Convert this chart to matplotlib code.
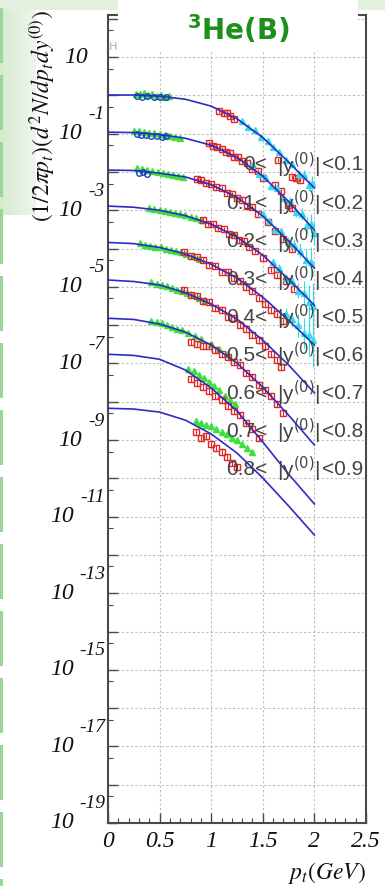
import numpy as np
import matplotlib
matplotlib.use('Agg')
import matplotlib.pyplot as plt
import matplotlib.transforms as mtransforms
from matplotlib.patches import Rectangle
from matplotlib.ticker import FixedLocator, NullFormatter

# curvas de ajuste: log10 del valor en pt_fit (GeV)
pt_fit = [0.0, 0.25, 0.5, 0.75, 1.0, 1.25, 1.5, 1.75, 2.0]
fit_log = [
    [0.01, 0.01, -0.02, -0.10, -0.28, -0.61, -1.10, -1.74, -2.42],
    [-0.96, -0.97, -1.02, -1.12, -1.30, -1.62, -2.11, -2.77, -3.52],
    [-1.95, -1.96, -2.03, -2.13, -2.33, -2.66, -3.15, -3.80, -4.51],
    [-2.89, -2.92, -3.00, -3.14, -3.36, -3.70, -4.17, -4.80, -5.48],
    [-3.84, -3.87, -3.97, -4.14, -4.41, -4.77, -5.27, -5.87, -6.52],
    [-4.82, -4.86, -4.95, -5.15, -5.45, -5.84, -6.39, -7.04, -7.77],
    [-5.82, -5.85, -5.97, -6.18, -6.52, -6.99, -7.62, -8.35, -9.13],
    [-6.76, -6.79, -6.89, -7.17, -7.64, -8.24, -9.05, -9.89, -10.67],
    [-8.17, -8.19, -8.27, -8.48, -8.84, -9.34, -9.99, -10.72, -11.48],
]

# puntos verdes (bajo pt)
green_pt = [
    [0.27, 0.31, 0.35, 0.39, 0.43, 0.47, 0.51, 0.55, 0.59],
    [0.25, 0.30, 0.35, 0.40, 0.45, 0.50, 0.55, 0.60, 0.65, 0.70],
    [0.28, 0.33, 0.38, 0.43, 0.48, 0.53, 0.58, 0.63, 0.68, 0.73],
    [0.40, 0.45, 0.50, 0.55, 0.60, 0.65, 0.70, 0.75, 0.80, 0.85, 0.90],
    [0.31, 0.36, 0.41, 0.46, 0.51, 0.56, 0.61, 0.66, 0.71, 0.76, 0.82, 0.88],
    [0.42, 0.47, 0.52, 0.57, 0.62, 0.67, 0.72, 0.77, 0.82, 0.88, 0.94],
    [0.42, 0.47, 0.52, 0.57, 0.62, 0.67, 0.72, 0.78, 0.84, 0.90, 1.00, 1.08, 1.15],
    [0.78, 0.83, 0.88, 0.93, 0.98, 1.03, 1.08, 1.13, 1.18, 1.23],
    [0.85, 0.90, 0.95, 1.00, 1.05, 1.10, 1.15, 1.20, 1.25, 1.30, 1.35, 1.40],
]
green_log = [
    [0.05, 0.03, 0.06, 0.02, 0.04, -0.01, 0.02, -0.03, -0.02],
    [-0.92, -0.94, -0.95, -0.97, -0.98, -1.01, -1.04, -1.06, -1.08, -1.12],
    [-1.90, -1.93, -1.95, -1.97, -2.00, -2.02, -2.05, -2.08, -2.10, -2.14],
    [-2.94, -2.97, -2.99, -3.02, -3.05, -3.06, -3.10, -3.13, -3.17, -3.20, -3.25],
    [-3.86, -3.90, -3.92, -3.95, -3.97, -4.00, -4.03, -4.07, -4.10, -4.14, -4.20, -4.27],
    [-4.88, -4.92, -4.95, -4.98, -5.02, -5.08, -5.10, -5.15, -5.20, -5.28, -5.35],
    [-5.88, -5.92, -5.95, -6.00, -6.05, -6.10, -6.12, -6.20, -6.28, -6.35, -6.50, -6.62, -6.75],
    [-7.15, -7.20, -7.30, -7.38, -7.48, -7.60, -7.70, -7.85, -7.95, -8.05],
    [-8.50, -8.55, -8.60, -8.62, -8.70, -8.78, -8.85, -8.95, -9.00, -9.10, -9.20, -9.30],
]

# circulos azules (solo las 3 primeras rapideces)
blue_pt = [
    [0.28, 0.33, 0.38, 0.45, 0.50, 0.56],
    [0.28, 0.32, 0.37, 0.42, 0.47, 0.52, 0.56],
    [0.30, 0.34, 0.38],
]
blue_log = [
    [-0.02, -0.03, -0.01, -0.04, -0.03, -0.05],
    [-1.02, -1.04, -1.03, -1.06, -1.05, -1.08, -1.07],
    [-2.02, -2.00, -2.05],
]

# cuadrados rojos
red_pt = [
    [1.08, 1.12, 1.15, 1.18, 1.22, 1.65, 1.78, 1.82, 1.86],
    [0.98, 1.02, 1.06, 1.10, 1.14, 1.18, 1.22, 1.26, 1.30, 1.35, 1.40, 1.45, 1.50, 1.62, 1.68, 1.74, 1.78],
    [0.86, 0.90, 0.95, 1.00, 1.05, 1.10, 1.15, 1.20, 1.25, 1.30, 1.35, 1.40, 1.45, 1.55, 1.62, 1.70, 1.78],
    [0.92, 0.97, 1.02, 1.07, 1.12, 1.17, 1.22, 1.27, 1.32, 1.37, 1.42, 1.50, 1.58, 1.64, 1.72, 1.80],
    [0.74, 0.80, 0.86, 0.92, 0.98, 1.04, 1.10, 1.16, 1.22, 1.28, 1.34, 1.40, 1.46, 1.52, 1.58, 1.64, 1.70],
    [0.74, 0.80, 0.86, 0.92, 0.98, 1.04, 1.10, 1.16, 1.22, 1.28, 1.34, 1.40, 1.46, 1.52, 1.58, 1.64, 1.68],
    [0.80, 0.86, 0.92, 0.98, 1.04, 1.10, 1.16, 1.22, 1.28, 1.34, 1.40, 1.46, 1.52, 1.58, 1.64, 1.70],
    [0.80, 0.86, 0.92, 0.98, 1.04, 1.10, 1.16, 1.22, 1.28, 1.34, 1.40, 1.46],
    [0.85, 0.90, 0.95, 1.00, 1.05, 1.10, 1.15, 1.20, 1.25],
]
red_log = [
    [-0.40, -0.45, -0.47, -0.54, -0.62, -1.69, -2.13, -2.16, -2.21],
    [-1.25, -1.33, -1.35, -1.40, -1.48, -1.50, -1.60, -1.62, -1.72, -1.76, -1.92, -1.98, -2.15, -2.35, -2.50, -2.85, -2.95],
    [-2.18, -2.22, -2.30, -2.31, -2.40, -2.43, -2.55, -2.58, -2.68, -2.72, -2.88, -2.92, -3.10, -3.30, -3.55, -3.75, -4.00],
    [-3.25, -3.35, -3.37, -3.46, -3.50, -3.62, -3.64, -3.78, -3.80, -3.95, -4.05, -4.25, -4.55, -4.70, -4.85, -5.05],
    [-4.10, -4.20, -4.23, -4.30, -4.42, -4.45, -4.60, -4.62, -4.78, -4.85, -5.00, -5.12, -5.30, -5.45, -5.60, -5.72, -5.90],
    [-5.08, -5.20, -5.25, -5.38, -5.40, -5.55, -5.60, -5.78, -5.82, -6.00, -6.10, -6.25, -6.40, -6.55, -6.75, -6.90, -7.10],
    [-6.45, -6.50, -6.55, -6.55, -6.65, -6.75, -6.82, -6.95, -7.05, -7.25, -7.35, -7.55, -7.70, -7.85, -8.05, -8.30],
    [-7.40, -7.50, -7.62, -7.72, -7.85, -7.95, -8.10, -8.25, -8.35, -8.55, -8.70, -8.95],
    [-8.80, -8.95, -8.90, -9.10, -9.20, -9.30, -9.45, -9.60, -9.70],
]
red_err = [0.06, 0.06, 0.06, 0.07, 0.07, 0.08, 0.08, 0.08, 0.08]

# triangulos cian (alto pt, 5 primeras rapideces)
cyan_pt = [
    [1.30, 1.36, 1.42, 1.48, 1.55, 1.60, 1.66, 1.72, 1.78, 1.85, 1.90, 1.95, 1.98],
    [1.40, 1.46, 1.52, 1.58, 1.64, 1.70, 1.76, 1.82, 1.88, 1.93, 1.97, 2.00],
    [1.50, 1.56, 1.62, 1.68, 1.74, 1.80, 1.86, 1.92, 1.97],
    [1.60, 1.66, 1.72, 1.78, 1.84, 1.90, 1.95, 1.99],
    [1.72, 1.78, 1.84, 1.90, 1.95, 1.99],
]
cyan_log = [
    [-0.66, -0.82, -0.90, -1.08, -1.18, -1.36, -1.47, -1.68, -1.78, -2.05, -2.08, -2.35, -2.30],
    [-1.82, -2.05, -2.12, -2.36, -2.42, -2.68, -2.75, -3.05, -3.10, -3.38, -3.35, -3.60],
    [-3.10, -3.28, -3.50, -3.55, -3.82, -3.90, -4.05, -4.30, -4.35],
    [-4.35, -4.50, -4.78, -4.85, -5.10, -5.15, -5.40, -5.50],
    [-5.70, -5.85, -6.00, -6.20, -6.25, -6.40],
]
cyan_err = [
    [0.04, 0.04, 0.05, 0.05, 0.05, 0.06, 0.06, 0.07, 0.08, 0.10, 0.12, 0.15, 0.20],
    [0.05, 0.05, 0.06, 0.06, 0.07, 0.08, 0.10, 0.12, 0.15, 0.20, 0.25, 0.30],
    [0.06, 0.07, 0.08, 0.10, 0.12, 0.15, 0.20, 0.30, 0.40],
    [0.08, 0.10, 0.12, 0.15, 0.20, 0.30, 0.45, 0.60],
    [0.15, 0.20, 0.30, 0.40, 0.55, 0.70],
]

y_lo = ['0', '0.1', '0.2', '0.3', '0.4', '0.5', '0.6', '0.7', '0.8']
y_hi = ['0.1', '0.2', '0.3', '0.4', '0.5', '0.6', '0.7', '0.8', '0.9']

ytick_exp = [1, -1, -3, -5, -7, -9, -11, -13, -15, -17, -19]
xticks = [0, 0.5, 1, 1.5, 2, 2.5]
xtick_labels = ['0', '0.5', '1', '1.5', '2', '2.5']

W, H = 385, 886
C_FIT = '#2d2dc4'
C_GREEN = '#3ee03e'
C_BLUE = '#1f40c8'
C_RED = '#e02828'
C_CYAN = '#2fdcea'
C_FRAME = '#4a4a4a'
C_LAB = '#444444'
SERIF = 'Liberation Serif'


def err_points(ax, pts, logs, errs, **kw):
    x = np.array(pts)
    v = 10.0 ** np.array(logs)
    e = np.array(errs, dtype=float) * np.ones_like(v)
    lo = v - v * 10.0 ** (-e)
    hi = v * 10.0 ** e - v
    ax.errorbar(x, v, yerr=[lo, hi], fmt='none', ecolor=kw.pop('ecolor'),
                elinewidth=0.8, capsize=0, zorder=kw.get('zorder', 3))
    ax.plot(x, v, linestyle='none', **kw)


fig = plt.figure(figsize=(W / 100, H / 100), dpi=100)

# fondo decorativo (coordenadas en pixeles)
bg = fig.add_axes([0, 0, 1, 1], zorder=-10)
bg.set_xlim(0, W); bg.set_ylim(H, 0); bg.axis('off')
grad = np.linspace(0, 1, 50)[None, :]
bg.imshow(grad, extent=[0, 36, 215, 0], cmap=matplotlib.colors.LinearSegmentedColormap.from_list(
    'g', ['#d6ead0', '#eef6ec']), aspect='auto')
bg.add_patch(Rectangle((0, 0), W, 10, color='#e2f0dd', lw=0))
y0 = 8
while y0 < H:
    bg.add_patch(Rectangle((0, y0), 3, 55, color='#9ad69a', lw=0))
    y0 += 67
bg.set_xlim(0, W); bg.set_ylim(H, 0)

# ejes principales
L_px, R_px, T_px, B_px = 108, 366, 15, 823
ax = fig.add_axes([L_px / W, 1 - B_px / H, (R_px - L_px) / W, (B_px - T_px) / H])
ax.set_yscale('log')
ax.set_xlim(0, 2.5)
ax.set_ylim(1e-19, 10 ** 2.1)

ax.set_xticks(xticks)
ax.set_xticklabels(xtick_labels, fontfamily=SERIF, fontstyle='italic', fontsize=17)
ax.xaxis.set_minor_locator(FixedLocator(np.arange(0, 2.51, 0.1)))
ax.yaxis.set_major_locator(FixedLocator([10.0 ** k for k in range(-19, 3)]))
ax.yaxis.set_minor_locator(FixedLocator([5 * 10.0 ** k for k in range(-20, 2)]))
ax.yaxis.set_major_formatter(NullFormatter())
ax.yaxis.set_minor_formatter(NullFormatter())
ax.tick_params(which='both', direction='in', colors=C_FRAME, labelcolor='#111111')
ax.tick_params(which='major', length=7, width=1)
ax.tick_params(which='minor', length=3.5, width=0.8)
ax.tick_params(axis='x', pad=6)
ax.grid(True, which='major', color='#bdbdbd', linestyle=(0, (2, 2)), linewidth=0.8)
for sp in ax.spines.values():
    sp.set_color(C_FRAME)
    sp.set_linewidth(1.5)

# datos
for i in range(len(green_pt)):
    ax.plot(green_pt[i], 10.0 ** np.array(green_log[i]), linestyle='none', marker='^',
            ms=4.5, color=C_GREEN, mec=C_GREEN, zorder=3)
for i in range(len(blue_pt)):
    ax.plot(blue_pt[i], 10.0 ** np.array(blue_log[i]), linestyle='none', marker='o',
            ms=4, mfc='none', mec=C_BLUE, mew=1, zorder=3)
for i in range(len(red_pt)):
    err_points(ax, red_pt[i], red_log[i], red_err[i], ecolor=C_RED, marker='s', ms=4.5,
               mfc='none', mec=C_RED, mew=1, zorder=3)
for i in range(len(cyan_pt)):
    err_points(ax, cyan_pt[i], cyan_log[i], cyan_err[i], ecolor=C_CYAN, marker='^', ms=4.5,
               color=C_CYAN, mec=C_CYAN, zorder=3)
for i in range(len(fit_log)):
    ax.plot(pt_fit, 10.0 ** np.array(fit_log[i]), color=C_FIT, lw=1.2, zorder=5)

# etiquetas de rapidez
for i in range(len(y_lo)):
    ya = (B_px - (165 + 38.1 * i)) / (B_px - T_px)
    tr = ax.transAxes
    ax.text((267 - L_px) / (R_px - L_px), ya, y_lo[i] + '<', transform=tr, ha='right',
            va='center', fontsize=15, color=C_LAB, fontfamily='Liberation Sans', zorder=6)
    ax.text((298 - L_px) / (R_px - L_px), ya, '|y$^{(0)}$|', transform=tr, ha='center',
            va='center', fontsize=15, color=C_LAB, fontfamily='Liberation Sans',
            math_fontfamily='dejavusans', zorder=6)
    ax.text((322 - L_px) / (R_px - L_px), ya, '<' + y_hi[i], transform=tr, ha='left',
            va='center', fontsize=15, color=C_LAB, fontfamily='Liberation Sans',
            zorder=6, clip_on=False)

# etiquetas del eje y estilo ROOT
ytr = mtransforms.blended_transform_factory(fig.transFigure, ax.transData)
etr = mtransforms.offset_copy(ytr, fig=fig, x=0, y=19, units='dots')
for n in ytick_exp:
    if n == 1:
        xr = 88
    elif n > -10:
        xr = 82
    else:
        xr = 74
    fig.text(xr / W, 10.0 ** n, '10', transform=ytr, ha='right', va='center',
             fontfamily=SERIF, fontstyle='italic', fontsize=17, color='#111111')
    if n != 1:
        fig.text(105 / W, 10.0 ** n, str(n), transform=etr, ha='right', va='center',
                 fontfamily=SERIF, fontstyle='italic', fontsize=14, color='#111111')

fig.text(42 / W, 1 - 10 / H, r'$(1/2\pi p_t)(d^2N/dp_t dy^{(0)})$', rotation=90,
         ha='center', va='top', fontsize=17, math_fontfamily='stix', color='#111111')
fig.text(366 / W, 1 - 873 / H, r'$p_t(GeV)$', ha='right', va='center', fontsize=17,
         math_fontfamily='stix', color='#111111')

# caja del titulo
ov = fig.add_axes([0, 0, 1, 1], zorder=10)
ov.set_xlim(0, W); ov.set_ylim(H, 0); ov.axis('off')
ov.add_patch(Rectangle((118, 0), 240, 52, color='white', lw=0))
ov.add_patch(Rectangle((358, 0), W - 358, 10, color='#e2f0dd', lw=0))
ov.text(113, 47, 'H', fontsize=8, color='#aaaaaa', ha='center', va='center')
ov.text(238, 30, r'$^{\mathbf{3}}$He(B)', fontsize=20, fontweight='bold', color='#1c8f1c',
        ha='center', va='center', fontfamily='DejaVu Sans', math_fontfamily='dejavusans')

fig.savefig('out.png', dpi=100)
